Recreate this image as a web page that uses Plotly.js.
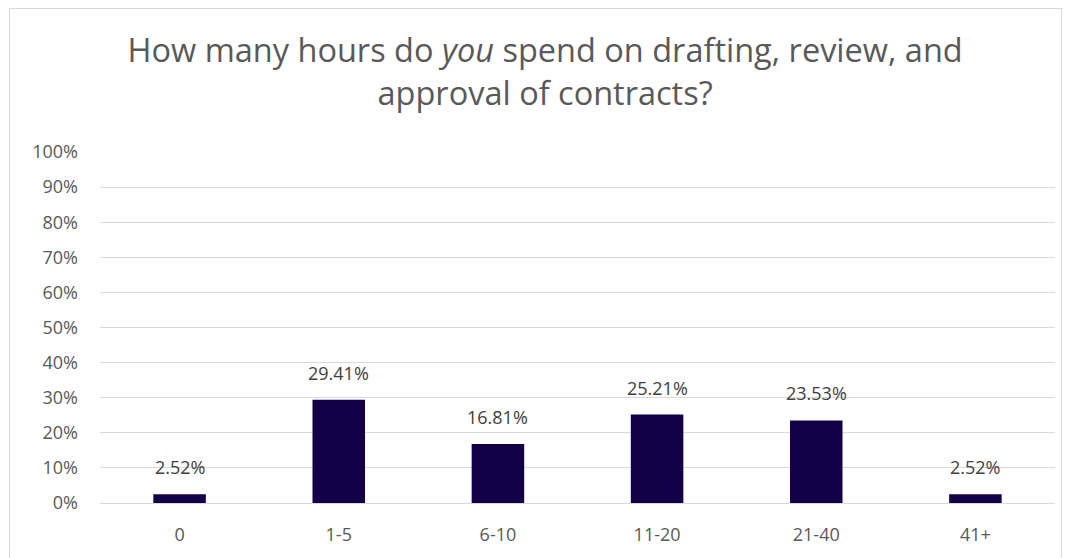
<!DOCTYPE html>
<html><head><meta charset="utf-8">
<script src="https://cdn.plot.ly/plotly-3.0.1.min.js"></script>
<style>
html,body{margin:0;padding:0;background:#fff;overflow:hidden;}
#wrap{position:relative;width:1071px;height:558px;}
#frame{position:absolute;left:9px;top:8px;width:1053px;height:560px;border:1px solid #d9d9d9;box-sizing:border-box;pointer-events:none;}
#chart{position:absolute;left:0;top:0;width:1071px;height:558px;}
</style></head>
<body><div id="wrap"><div id="chart"></div><div id="frame"></div></div>
<script>
const categories = ["0","1-5","6-10","11-20","21-40","41+"];
const values = [2.52, 29.41, 16.81, 25.21, 23.53, 2.52];
const labels = values.map(v => v.toFixed(2) + "%");
const tickVals = [0,10,20,30,40,50,60,70,80,90,100];
const tickText = tickVals.map(v => v + "%");

const font = "Open Sans, Liberation Sans, sans-serif";
const annotations = categories.map((c, i) => ({
  x: c, y: values[i], xref: "x", yref: "y",
  text: labels[i], showarrow: false,
  xanchor: "center", yanchor: "bottom", yshift: 13,
  font: {family: font, size: 18, color: "#404040"}
}));

Plotly.newPlot("chart", [{
  type: "bar",
  x: categories,
  y: values,
  width: 0.33,
  marker: {color: "#140047", line: {width: 0}},
  hoverinfo: "none"
}], {
  width: 1071, height: 558,
  margin: {l: 100, r: 16, t: 152, b: 55},
  paper_bgcolor: "rgba(0,0,0,0)",
  plot_bgcolor: "#fff",
  showlegend: false,
  annotations: annotations,
  title: {
    text: "How many hours do <i>you</i> spend on drafting, review, and<br>approval of contracts?",
    font: {family: font, size: 32.5, color: "#595959"},
    x: 0.509, xanchor: "center", y: 0.888, yanchor: "top"
  },
  xaxis: {
    type: "category",
    tickfont: {family: font, size: 18, color: "#595959"},
    showgrid: false, zeroline: false, showline: false, ticks: "",
    ticklabelstandoff: 19
  },
  yaxis: {
    range: [0, 100],
    tickvals: tickVals, ticktext: tickText,
    tickfont: {family: font, size: 18, color: "#595959"},
    gridcolor: "#d9d9d9", gridwidth: 1,
    zeroline: true, zerolinecolor: "#d9d9d9", zerolinewidth: 1,
    showline: false, ticks: "", ticklabelstandoff: 21
  }
}, {displayModeBar: false, staticPlot: true});
</script></body></html>
